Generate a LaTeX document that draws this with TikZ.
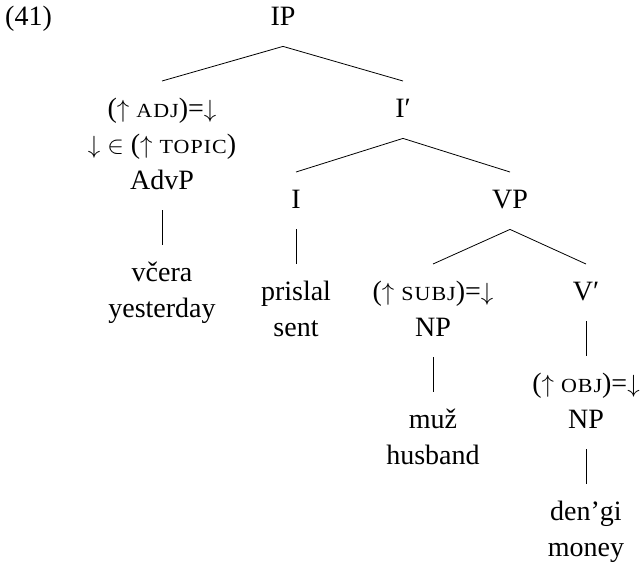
\documentclass[tikz,border=0pt]{standalone}
\usepackage{fontspec}
\setmainfont{Liberation Serif}
% faked small capitals for feature names
\newcommand\feat[1]{{\fontsize{20}{36}\selectfont\addfontfeature{FakeStretch=1.1,LetterSpace=5}\uppercase{#1}}}
\newcommand\up{$\uparrow$}
\newcommand\dn{$\downarrow$}
\tikzset{
  tn/.style={anchor=north, yshift=25.2pt, align=center, inner sep=0pt,
    font=\fontsize{28}{36}\selectfont},
  br/.style={line width=0.8pt},
}
% a branch leaves 10.2pt below its parent and stops 10.8pt above its child
\newcommand\branch[2]{\draw[br] ([yshift=-10.2pt]#1.south) -- ([yshift=10.8pt]#2.north);}
\begin{document}
\begin{tikzpicture}[x=1pt,y=1pt]
\useasboundingbox (0,0) rectangle (640,-565);
% example number
\node[anchor=base west, inner sep=0pt, font=\fontsize{28}{36}\selectfont] (num) at (5,-25) {(41)};
% tree nodes, placed by the baseline of their first line
\node[tn] (ip)   at (283,-25)  {\strut IP};
\node[tn] (advp) at (162,-117) {\strut(\up\ \feat{adj})=\dn\\\strut\dn\ $\in$ (\up\ \feat{topic})\\\strut AdvP};
\node[tn] (ibar) at (403,-117) {\strut I′};
\node[tn] (i)    at (296,-208) {\strut I};
\node[tn] (vp)   at (510,-208) {\strut VP};
\node[tn] (vcera) at (162,-281) {\strut včera\\\strut yesterday};
\node[tn] (prislal) at (296,-300) {\strut prislal\\\strut sent};
\node[tn] (subj) at (433,-300) {\strut(\up\ \feat{subj})=\dn\\\strut NP};
\node[tn] (vbar) at (586,-300) {\strut V′};
\node[tn] (muz)  at (433,-428) {\strut muž\\\strut husband};
\node[tn] (obj)  at (586,-392) {\strut(\up\ \feat{obj})=\dn\\\strut NP};
\node[tn] (dengi) at (586,-520) {\strut den’gi\\\strut money};
% branches
\branch{ip}{advp}
\branch{ip}{ibar}
\branch{advp}{vcera}
\branch{ibar}{i}
\branch{ibar}{vp}
\branch{i}{prislal}
\branch{vp}{subj}
\branch{vp}{vbar}
\branch{subj}{muz}
\branch{vbar}{obj}
\branch{obj}{dengi}
\end{tikzpicture}
\end{document}
